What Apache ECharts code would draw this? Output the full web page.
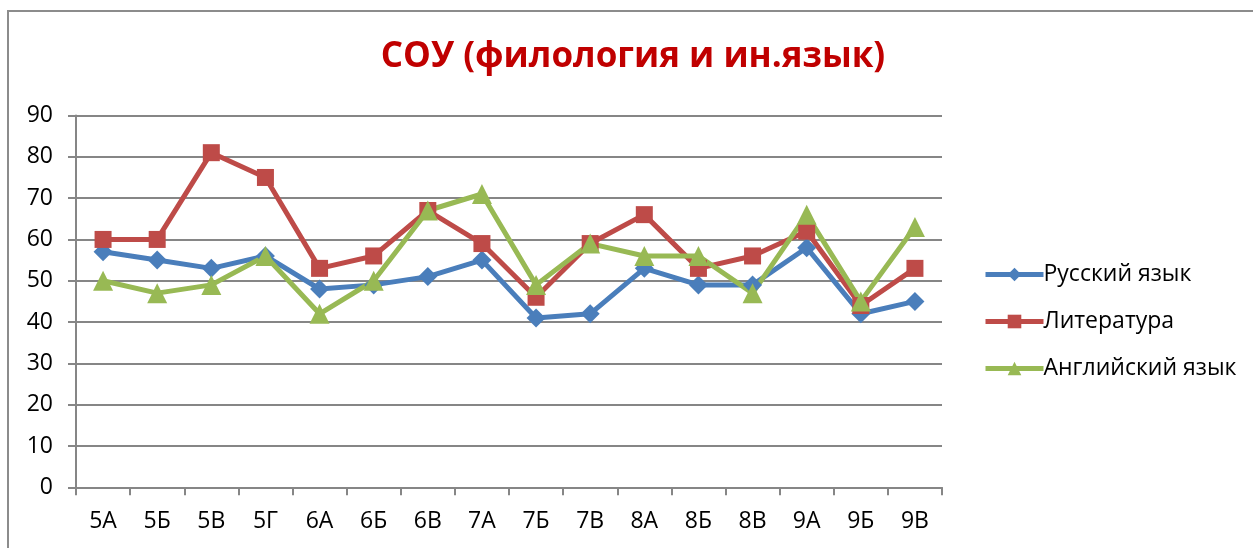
<!DOCTYPE html>
<html lang="ru">
<head>
    <meta charset="UTF-8">
    <title>СОУ (филология и ин.язык)</title>
    <script src="https://cdn.jsdelivr.net/npm/echarts@6/dist/echarts.min.js"></script>
    <style>
        html, body { margin: 0; padding: 0; background: #fff; overflow: hidden; }
        #frame {
            position: absolute; left: 7px; top: 10px;
            width: 2000px; height: 1000px;
            border-left: 2px solid #8c8c8c; border-top: 2px solid #8c8c8c;
        }
        #chart { position: absolute; left: 0; top: 0; width: 1253px; height: 548px; }
    </style>
</head>
<body>
    <div id="frame"></div>
    <div id="chart"></div>

    <script>
        var chart = echarts.init(document.getElementById('chart'));

        var klassy = ['5А', '5Б', '5В', '5Г', '6А', '6Б', '6В', '7А', '7Б', '7В', '8А', '8Б', '8В', '9А', '9Б', '9В'];
        var russkiy = [57, 55, 53, 56, 48, 49, 51, 55, 41, 42, 53, 49, 49, 58, 42, 45];
        var literatura = [60, 60, 81, 75, 53, 56, 67, 59, 46, 59, 66, 53, 56, 62, 44, 53];
        var angliyskiy = [50, 47, 49, 56, 42, 50, 67, 71, 49, 59, 56, 56, 47, 66, 45, 63];

        var shrift = '"Open Sans", "Noto Sans", sans-serif';
        var seryy = '#868686';

        function liniya(name, data, color, symbol, size) {
            return {
                name: name,
                type: 'line',
                data: data,
                symbol: symbol,
                symbolSize: size,
                lineStyle: { width: 5, color: color },
                itemStyle: { color: color },
                emphasis: { disabled: true }
            };
        }

        var option = {
            animation: false,
            title: {
                text: 'СОУ (филология и ин.язык)',
                left: 628,
                top: 35,
                textAlign: 'center',
                textStyle: { color: '#C00000', fontSize: 35, fontWeight: 'bold', fontFamily: shrift }
            },
            legend: {
                orient: 'vertical',
                left: 978,
                top: 258,
                itemWidth: 58,
                itemHeight: 17,
                itemGap: 24,
                lineStyle: { width: 5 },
                textStyle: { fontSize: 23, color: '#000', fontFamily: shrift, padding: [0, 0, 0, -5] },
                data: ['Русский язык', 'Литература', 'Английский язык']
            },
            grid: { left: 76, right: 311, top: 115.5, bottom: 60.7 },
            xAxis: {
                type: 'category',
                data: klassy,
                boundaryGap: true,
                axisLine: { lineStyle: { color: seryy, width: 2 } },
                axisTick: { show: true, interval: 0, length: 8, lineStyle: { color: seryy, width: 2 } },
                axisLabel: { interval: 0, margin: 23, fontSize: 23, color: '#000', fontFamily: shrift }
            },
            yAxis: {
                type: 'value',
                min: 0,
                max: 90,
                interval: 10,
                axisLine: { show: true, lineStyle: { color: seryy, width: 2 } },
                axisTick: { show: true, length: 8, lineStyle: { color: seryy, width: 2 } },
                axisLabel: { margin: 23, fontSize: 23, color: '#000', fontFamily: shrift },
                splitLine: { lineStyle: { color: seryy, width: 2 } }
            },
            series: [
                liniya('Русский язык', russkiy, '#4A7EBB', 'diamond', 19),
                liniya('Литература', literatura, '#BE4B48', 'rect', 17),
                liniya('Английский язык', angliyskiy, '#98B954', 'triangle', 20)
            ]
        };

        chart.setOption(option);
    </script>
</body>
</html>
